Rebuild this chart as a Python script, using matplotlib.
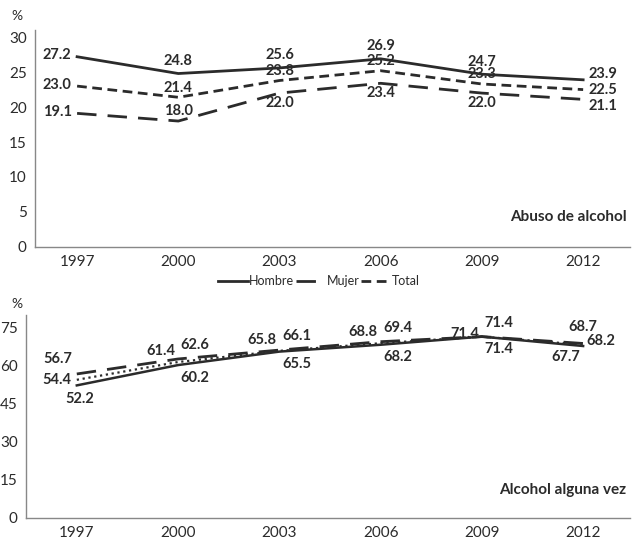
import numpy as np
import matplotlib
matplotlib.use("Agg")
import matplotlib.pyplot as plt

years = ["1997", "2000", "2003", "2006", "2009", "2012"]

# Abuso de alcohol
abuso_hombre = [27.2, 24.8, 25.6, 26.9, 24.7, 23.9]
abuso_mujer = [19.1, 18.0, 22.0, 23.4, 22.0, 21.1]
abuso_total = [23.0, 21.4, 23.8, 25.2, 23.3, 22.5]

# Alcohol alguna vez
vez_hombre = [52.2, 60.2, 65.5, 68.2, 71.4, 67.7]
vez_mujer = [56.7, 62.6, 66.1, 69.4, 71.4, 68.7]
vez_total = [54.4, 61.4, 65.8, 68.8, 71.4, 68.2]

plt.rcParams['font.family'] = ['Lato', 'DejaVu Sans']
ink = '#2b2b2b'
x = np.arange(len(years))

fig = plt.figure(figsize=(6.38, 5.39), dpi=100)
ax1 = fig.add_axes([0.055, 0.542, 0.932, 0.402])
ax2 = fig.add_axes([0.041, 0.039, 0.946, 0.377])


def style(ax, ylim, yticks, xl):
    ax.set_xlim(xl, 5.46)
    ax.set_ylim(*ylim)
    ax.set_yticks(yticks)
    ax.set_xticks(x)
    ax.set_xticklabels(years)
    for s in ['top', 'right']:
        ax.spines[s].set_visible(False)
    for s in ['left', 'bottom']:
        ax.spines[s].set_color('#888888')
        ax.spines[s].set_linewidth(1.0)
    ax.tick_params(length=0, labelsize=11, colors=ink, pad=6)


def lab(ax, xi, yi, txt, dx, dy, ha='center', va='center'):
    ax.annotate(txt, (xi, yi), xytext=(dx, dy), textcoords='offset points',
                ha=ha, va=va, fontsize=10.5, fontweight='bold', color=ink)


# top chart
ax1.plot(x, abuso_hombre, color=ink, lw=2.0, label='Hombre')
ax1.plot(x, abuso_mujer, color=ink, lw=2.0, dashes=(7, 4), label='Mujer')
ax1.plot(x, abuso_total, color=ink, lw=2.0, dashes=(3.5, 2), label='Total')
style(ax1, (0, 31), [0, 5, 10, 15, 20, 25, 30], -0.415)
fig.text(0.018, 0.962, '%', fontsize=10, color=ink)
ax1.text(0.995, 0.12, 'Abuso de alcohol', transform=ax1.transAxes, ha='right',
         fontsize=11, fontweight='bold', color=ink)

for i, (h, m, t) in enumerate(zip(abuso_hombre, abuso_mujer, abuso_total)):
    if i == 0:
        lab(ax1, i, h, f'{h:.1f}', -4, 1, ha='right')
        lab(ax1, i, m, f'{m:.1f}', -4, 1, ha='right')
        lab(ax1, i, t, f'{t:.1f}', -4, 1, ha='right')
    elif i == 5:
        lab(ax1, i, h, f'{h:.1f}', 4, 4, ha='left')
        lab(ax1, i, t, f'{t:.1f}', 4, 0, ha='left')
        lab(ax1, i, m, f'{m:.1f}', 4, -5, ha='left')
    else:
        lab(ax1, i, h, f'{h:.1f}', 0, 9)
        lab(ax1, i, t, f'{t:.1f}', 0, 7)
        if i == 1:
            lab(ax1, i, m, f'{m:.1f}', 0, 7)
        else:
            lab(ax1, i, m, f'{m:.1f}', 0, -7)

fig.legend(handles=ax1.get_lines(), labels=['Hombre', 'Mujer', 'Total'],
           loc='center', bbox_to_anchor=(0.5, 0.478), ncol=3, frameon=False,
           fontsize=9, handlelength=2.4, handletextpad=0.1, columnspacing=0.1,
           labelcolor=ink)

# bottom chart
ax2.plot(x, vez_hombre, color=ink, lw=1.8)
ax2.plot(x, vez_mujer, color=ink, lw=2.0, dashes=(7, 4))
ax2.plot(x, vez_total, color=ink, lw=1.6, ls=':')
style(ax2, (0, 80), [0, 15, 30, 45, 60, 75], -0.50)
fig.text(0.018, 0.428, '%', fontsize=10, color=ink)
ax2.text(0.995, 0.12, 'Alcohol alguna vez', transform=ax2.transAxes, ha='right',
         fontsize=11, fontweight='bold', color=ink)

lab(ax2, 0, vez_mujer[0], '56.7', -14, 11)
lab(ax2, 0, vez_total[0], '54.4', -4, 0, ha='right')
lab(ax2, 0, vez_hombre[0], '52.2', 2, -10)
for i in range(1, 4):
    lab(ax2, i, vez_total[i], f'{vez_total[i]:.1f}', -2, 8, ha='right')
    lab(ax2, i, vez_mujer[i], f'{vez_mujer[i]:.1f}', 2, 10, ha='left')
    lab(ax2, i, vez_hombre[i], f'{vez_hombre[i]:.1f}', 2, -9, ha='left')
lab(ax2, 4, vez_total[4], '71.4', -2, 2, ha='right')
lab(ax2, 4, vez_mujer[4], '71.4', 2, 10, ha='left')
lab(ax2, 4, vez_hombre[4], '71.4', 2, -9, ha='left')
lab(ax2, 5, vez_mujer[5], '68.7', 0, 12)
lab(ax2, 5, vez_hombre[5], '67.7', -2, -8, ha='right')
lab(ax2, 5, vez_total[5], '68.2', 2, 3, ha='left')

plt.savefig('out.png', dpi=100)
